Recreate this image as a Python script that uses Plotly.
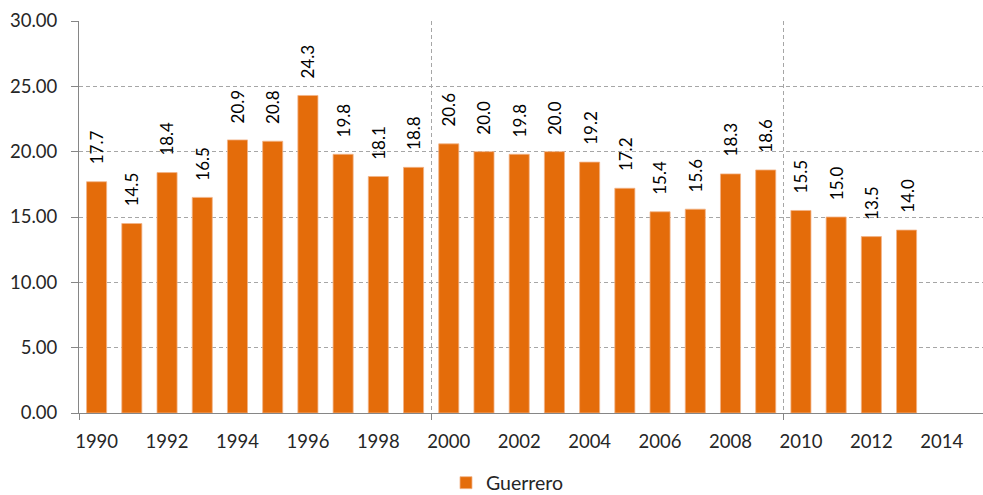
import plotly.graph_objects as go

years = list(range(1990, 2014))
values = [17.7, 14.5, 18.4, 16.5, 20.9, 20.8, 24.3, 19.8, 18.1, 18.8,
          20.6, 20.0, 19.8, 20.0, 19.2, 17.2, 15.4, 15.6, 18.3, 18.6,
          15.5, 15.0, 13.5, 14.0]
series_name = "Guerrero"
x_ticks = list(range(1990, 2015, 2))
y_ticks = [0, 5, 10, 15, 20, 25, 30]

FONT = "Lato, 'Open Sans', sans-serif"
GRID = "#A6A6A6"
DASH = "4px,3px"

fig = go.Figure()
fig.add_trace(go.Bar(
    x=years, y=values, name=series_name,
    width=0.57,
    marker=dict(color="#E46C0A", line=dict(color="#F2B488", width=0.8)),
    showlegend=True,
))

for x, v in zip(years, values):
    fig.add_annotation(
        x=x, y=v, text=f"{v:.1f}", textangle=-90,
        showarrow=False, xanchor="center", yanchor="bottom", yshift=15,
        font=dict(family=FONT, size=17, color="#000000"),
    )

fig.update_layout(
    width=983, height=495,
    margin=dict(l=79, r=0, t=21, b=82),
    plot_bgcolor="white", paper_bgcolor="white",
    font=dict(family=FONT, size=18, color="#262626"),
    showlegend=True,
    legend=dict(orientation="h", x=446 / 983, xanchor="left", xref="container",
                y=12 / 495, yanchor="middle", yref="container",
                font=dict(family=FONT, size=19.5, color="#262626")),
)

fig.update_xaxes(
    range=[1989.5, 2015.17], automargin=False,
    tickvals=x_ticks, ticktext=[str(t) for t in x_ticks],
    ticks="", showgrid=False, zeroline=False,
    showline=True, linecolor="#868686", linewidth=1,
    ticklabelstandoff=12,
    tickfont=dict(family=FONT, size=18.5, color="#262626"),
    minor=dict(tickvals=[1989.5, 1999.5, 2009.5], ticks="outside", ticklen=6,
               tickcolor="#868686", showgrid=True, gridcolor=GRID,
               griddash=DASH, gridwidth=1),
)
fig.update_yaxes(
    range=[0, 30], automargin=False,
    tickvals=y_ticks, ticktext=[f"{t:.2f}" for t in y_ticks],
    ticks="outside", ticklen=7, tickcolor="#868686",
    showgrid=True, gridcolor=GRID, griddash=DASH, gridwidth=1,
    showline=True, linecolor="#868686", linewidth=1, zeroline=False,
    ticklabelstandoff=10,
    tickfont=dict(family=FONT, size=18.5, color="#262626"),
)

fig.write_html("out.html", config={"displayModeBar": False},
               post_script="document.body.style.margin='0';document.body.style.overflow='hidden';")
